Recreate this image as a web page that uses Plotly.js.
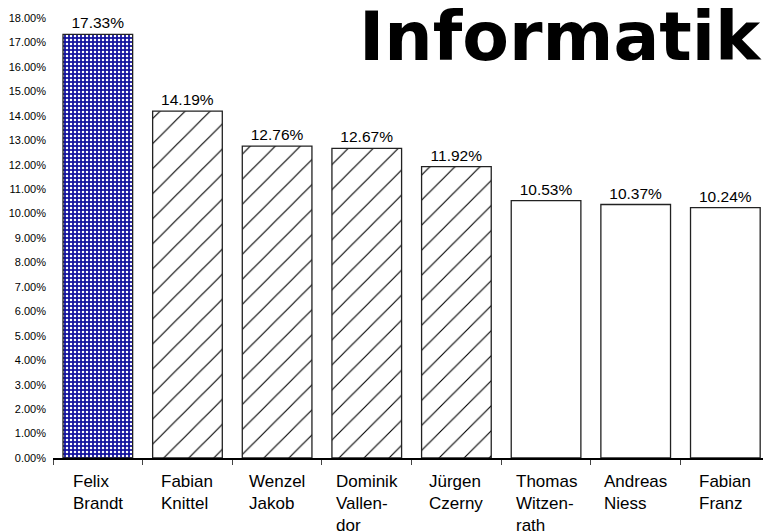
<!DOCTYPE html>
<html>
<head>
<meta charset="utf-8">
<script src="https://cdn.plot.ly/plotly-3.0.1.min.js"></script>
<style>html,body{margin:0;padding:0;background:#fff;}#chart{width:763px;height:532px;}</style>
</head>
<body>
<div id="chart"></div>
<script>
// Data
const categories = ['Felix Brandt','Fabian Knittel','Wenzel Jakob','Dominik Vallendor','Jürgen Czerny','Thomas Witzenrath','Andreas Niess','Fabian Franz'];
const categoryLabels = ['Felix<br>Brandt','Fabian<br>Knittel','Wenzel<br>Jakob','Dominik<br>Vallen-<br>dor','Jürgen<br>Czerny','Thomas<br>Witzen-<br>rath','Andreas<br>Niess','Fabian<br>Franz'];
const values = [17.33, 14.19, 12.76, 12.67, 11.92, 10.53, 10.37, 10.24];
const yTicks = [0,1,2,3,4,5,6,7,8,9,10,11,12,13,14,15,16,17,18];
const titleText = 'Informatik';

// Groups of bars by fill style: [start, end)
const groups = [
  {from: 0, to: 1, pattern: {shape: '.', bgcolor: '#14149e', fgcolor: '#ffffff', size: 4, solidity: 0.3}},
  {from: 1, to: 5, pattern: {shape: '/', bgcolor: '#ffffff', fgcolor: '#000000', size: 17.7, solidity: 0.065}},
  {from: 5, to: 8, pattern: null}
];

const traces = groups.map(g => {
  const yv = values.slice(g.from, g.to);
  const t = {
    type: 'bar',
    x: categories.slice(g.from, g.to),
    y: yv,
    width: 0.777,
    marker: {
      color: g.pattern ? g.pattern.bgcolor : '#ffffff',
      line: {color: '#222222', width: 1.3}
    },
    text: yv.map(v => v.toFixed(2) + '%'),
    textposition: 'outside',
    textfont: {family: 'Liberation Sans, Arial, sans-serif', size: 15.5, color: '#000'},
    cliponaxis: false,
    hoverinfo: 'none'
  };
  if (g.pattern) t.marker.pattern = Object.assign({fillmode: 'replace'}, g.pattern);
  return t;
});

const annotations = categories.map((c, i) => ({
  x: c, xref: 'x', y: 0, yref: 'y',
  yshift: -12,
  text: categoryLabels[i],
  showarrow: false,
  xanchor: 'center', yanchor: 'top',
  align: 'left',
  font: {family: 'Liberation Sans, Arial, sans-serif', size: 17, color: '#000'}
}));
annotations.push({
  xref: 'paper', yref: 'paper', x: 1.0, y: 1.05,
  xanchor: 'right', yanchor: 'top',
  borderpad: 0,
  text: '<b>' + titleText + '</b>',
  showarrow: false,
  font: {family: 'DejaVu Sans, sans-serif', size: 68, color: '#000'}
});

const layout = {
  width: 763, height: 532,
  margin: {l: 53, r: 0, t: 18, b: 74},
  paper_bgcolor: '#fff', plot_bgcolor: '#fff',
  showlegend: false,
  barmode: 'overlay',
  xaxis: {
    categoryorder: 'array', categoryarray: categories,
    range: [-0.5, 7.42],
    showticklabels: false,
    showline: true, linecolor: '#000', linewidth: 1.5,
    ticks: 'outside', tickson: 'boundaries', ticklen: 5, tickcolor: '#444', tickwidth: 1,
    showgrid: false, zeroline: false, fixedrange: true
  },
  yaxis: {
    range: [0, 18],
    tickvals: yTicks,
    ticktext: yTicks.map(v => v.toFixed(2) + '%'),
    tickfont: {family: 'Liberation Sans, Arial, sans-serif', size: 11, color: '#000'},
    ticklabelstandoff: 6,
    showgrid: false, zeroline: false, showline: false, ticks: '',
    fixedrange: true
  },
  annotations: annotations
};

Plotly.newPlot('chart', traces, layout, {displayModeBar: false, staticPlot: true});
</script>
</body>
</html>
